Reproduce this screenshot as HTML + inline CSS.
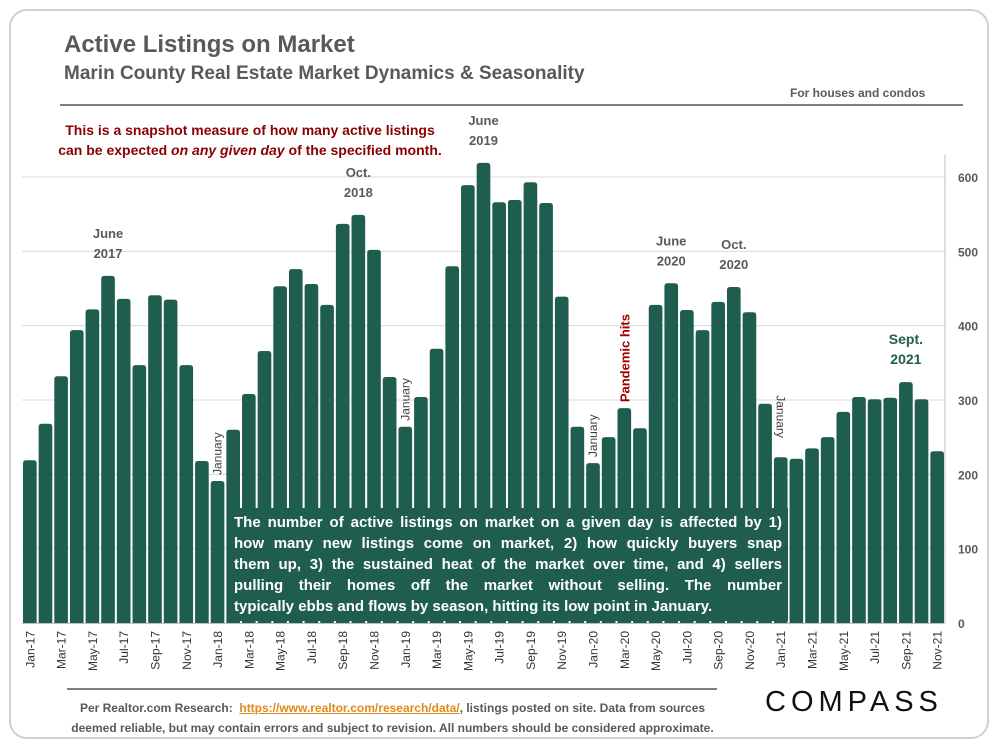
<!DOCTYPE html>
<html><head><meta charset="utf-8"><style>
body{margin:0;background:#fff;font-family:"Liberation Sans",sans-serif;}
#frame{position:absolute;left:9px;top:9px;width:980px;height:730px;border:2px solid #d0d0d0;border-radius:18px;box-sizing:border-box;}
.t{position:absolute;white-space:nowrap;}
.ln{display:block;text-align:justify;text-align-last:justify;}
</style></head><body>
<div id="frame"></div>
<div class="t" style="left:64px;top:31px;font-size:24px;font-weight:bold;color:#595959;">Active Listings on Market</div>
<div class="t" style="left:64px;top:63px;font-size:19px;font-weight:bold;color:#595959;">Marin County Real Estate Market Dynamics &amp; Seasonality</div>
<div class="t" style="left:790px;top:86px;font-size:12px;font-weight:bold;color:#595959;">For houses and condos</div>
<div style="position:absolute;left:60px;top:104px;width:903px;height:2px;background:#7f7f7f;"></div>
<div class="t" style="left:30px;top:120px;width:440px;text-align:center;font-size:14px;font-weight:bold;color:#8b0000;line-height:20px;">This is a snapshot measure of how many active listings<br>can be expected <i>on any given day</i> of the specified month.</div>
<svg id="chart" width="1000" height="750" style="position:absolute;left:0;top:0"></svg>
<div class="t" style="left:228px;top:508px;width:548px;padding:4px 6px;background:#1f5e4e;color:#fff;font-size:15px;font-weight:bold;line-height:21px;white-space:nowrap;">
<span class="ln">The number of active listings on market on a given day is affected by 1)</span>
<span class="ln">how many new listings come on market, 2) how quickly buyers snap</span>
<span class="ln">them up, 3) the sustained heat of the market over time, and 4) sellers</span>
<span class="ln">pulling their homes off the market without selling. The number</span>
<span style="display:block">typically ebbs and flows by season, hitting its low point in January.</span>
</div>
<div style="position:absolute;left:67px;top:688px;width:650px;height:2px;background:#7f7f7f;"></div>
<div class="t" style="left:40px;top:698px;width:705px;text-align:center;font-size:12px;font-weight:bold;color:#595959;line-height:20px;">Per Realtor.com Research: &nbsp;<span style="color:#e08a1e;text-decoration:underline">https://www.realtor.com/research/data/</span>, listings posted on site. Data from sources<br>deemed reliable, but may contain errors and subject to revision. All numbers should be considered approximate.</div>
<div class="t" style="left:765px;top:686px;font-size:29px;letter-spacing:5px;color:#111;">COMPASS</div>
<script>
const months=["Jan","Feb","Mar","Apr","May","Jun","Jul","Aug","Sep","Oct","Nov","Dec"];
const categories=[];for(let y=17;y<=21;y++)for(const m of months){if(y===21&&m==="Dec")break;categories.push(m+"-"+y);}
const values=[219,268,332,394,422,467,436,347,441,435,347,218,
191,260,308,366,453,476,456,428,537,549,502,331,
264,304,369,480,589,619,566,569,593,565,439,264,
215,250,289,262,428,457,421,394,432,452,418,295,
223,221,235,250,284,304,301,303,324,301,231];
const yTicks=[0,100,200,300,400,500,600];
const annotations=[{i:5,text:["June","2017"]},{i:21,text:["Oct.","2018"]},{i:29,text:["June","2019"]},{i:41,text:["June","2020"]},{i:45,text:["Oct.","2020"]},{i:56,text:["Sept.","2021"],green:true}];
const janLabels=[12,24,36,48];
const svg=document.getElementById('chart');const NS="http://www.w3.org/2000/svg";
const X0=22,X1=945,Y0=623,Ypx=446/600;
const slot=(X1-X0)/categories.length;
const xs=i=>X0+i*slot;const ys=v=>Y0-v*Ypx;
function mk(t,a){const e=document.createElementNS(NS,t);for(const k in a)e.setAttribute(k,a[k]);svg.appendChild(e);return e;}
yTicks.forEach(v=>{if(v>0){const g=mk('line',{x1:X0,x2:X1,y1:ys(v),y2:ys(v),stroke:'#d9d9d9','stroke-width':1});}
const t=mk('text',{x:958,y:ys(v)+5,'font-size':12,'font-weight':'bold',fill:'#595959','font-family':'Liberation Sans'});t.textContent=v;

});
const ax=mk('line',{x1:X1,x2:X1,y1:155,y2:Y0,stroke:'#bfbfbf'});


values.forEach((v,i)=>{const x=xs(i)+1,w=slot-2,y=ys(v),r=3;
const p=mk('path',{d:`M${x},${Y0}V${y+r}Q${x},${y} ${x+r},${y}H${x+w-r}Q${x+w},${y} ${x+w},${y+r}V${Y0}Z`,fill:'#1f5e4e'});

});
const xa=mk('line',{x1:X0,x2:X1,y1:Y0+0.5,y2:Y0+0.5,stroke:'#bfbfbf'});


categories.forEach((c,i)=>{if(i%2)return;const cx=xs(i)+slot/2;
const t=mk('text',{x:0,y:0,transform:`translate(${cx+4.5},631) rotate(-90)`,'text-anchor':'end','font-size':12,fill:'#333','font-family':'Liberation Sans'});t.textContent=c;

});
annotations.forEach(a=>{const cx=xs(a.i)+slot/2,top=ys(values[a.i]);
a.text.forEach((s,k)=>{const t=mk('text',{x:cx,y:top-38+k*20,'text-anchor':'middle','font-size':a.green?14:13,'font-weight':'bold',fill:a.green?'#1f5e4e':'#595959','font-family':'Liberation Sans'});t.textContent=s;

});});
janLabels.forEach((i,k)=>{const cx=xs(i)+slot/2,top=ys(values[i]);
const t=mk('text',{x:0,y:0,transform:k===3?`translate(${cx-4},${top-62}) rotate(90)`:`translate(${cx+4},${top-6}) rotate(-90)`,'font-size':12,fill:'#404040','font-family':'Liberation Sans'});t.textContent="January";

});
{const i=38,cx=xs(i)+slot/2;const t=mk('text',{x:0,y:0,transform:`translate(${cx+5},${ys(values[i])-6}) rotate(-90)`,'font-size':13,'font-weight':'bold',fill:'#a00000','font-family':'Liberation Sans'});t.textContent="Pandemic hits";

}
</script>
</body></html>
